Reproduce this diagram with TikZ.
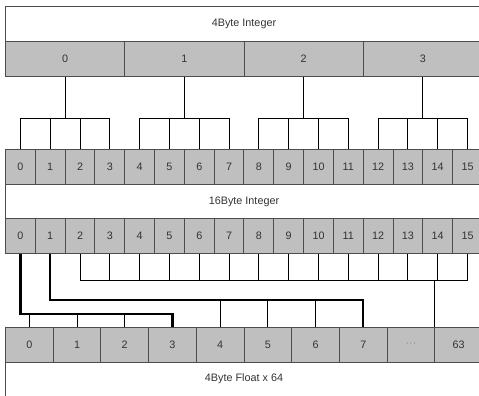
\documentclass[tikz,border=0pt]{standalone}
\usepackage{fontspec}
\setmainfont{Liberation Sans}
\usetikzlibrary{positioning}

\begin{document}
\begin{tikzpicture}[x=1pt, y=-1pt,
    every node/.style={font=\fontsize{10.8}{12}\selectfont, text=black!80},
    cell/.style={draw=black!70, line width=1pt, fill=black!25, minimum height=35pt, inner sep=0pt, anchor=north west},
    band/.style={draw=black!70, line width=1pt, fill=white, minimum width=477pt, inner sep=0pt, anchor=north west},
    link/.style={draw=black, line width=1pt},
    heavy/.style={draw=black, line width=2.4pt}]
    \useasboundingbox (0,0) rectangle (479,396);
    \clip (0,0) rectangle (479,396);

    % Nodes
    \node[band, minimum height=35.3pt] (title) at (5,5.7) {4Byte Integer};
    \foreach \i in {0,...,3}
        \node[cell, minimum width=119.25pt] (int\i) at ({5+119.25*\i},41) {\i};
    \foreach \i in {0,...,15}
        \node[cell, minimum width=29.81pt] (byte\i) at ({5+29.81*\i},149) {\i};
    \node[band, minimum height=34pt] (mid) at (5,184) {16Byte Integer};
    \foreach \i in {0,...,15}
        \node[cell, minimum width=29.81pt] (word\i) at ({5+29.81*\i},218) {\i};
    \foreach \i/\t in {0/0,1/1,2/2,3/3,4/4,5/5,6/6,7/7,8/{\textcolor{black!45}{···}},9/63}
        \node[cell, minimum width=47.7pt] (flt\i) at ({5+47.7*\i},327) {\t};
    \node[band, minimum height=32pt, draw=none] (bottom) at (5,362) {4Byte Float x 64};
    \draw[black!70, line width=1pt] (bottom.north west) -- ++(0,40);

    % Connections
    \foreach \i in {0,...,3}
        \foreach \j in {0,...,3} {
            \pgfmathtruncatemacro\k{4*\i+\j}
            \draw[link] (int\i.south) -- ++(0,41) -| (byte\k.north);
        }

    % 16Byte -> 4Byte Float
    \foreach \j in {2,...,15}
        \draw[link] (word\j.south) -- ++(0,26) -| (flt9.north west);
    \foreach \k in {4,5,6}
        \draw[link] (word1.south) ++(0,46) -| (flt\k.north);
    \draw[heavy] (word1.south) -- ++(0,46) -| (flt7.north);
    \foreach \k in {0,1,2}
        \draw[link] (word0.south) ++(0,60) -| (flt\k.north);
    \draw[heavy] (word0.south) -- ++(0,60) -| (flt3.north);
\end{tikzpicture}
\end{document}
